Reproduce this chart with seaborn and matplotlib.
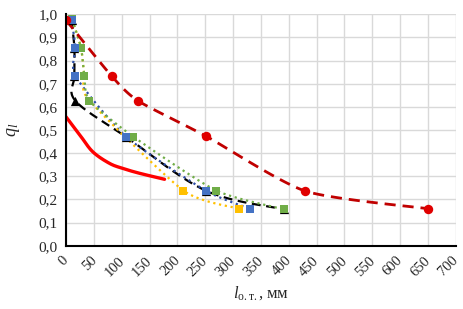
import numpy as np
import pandas as pd
import matplotlib
matplotlib.use("Agg")
import matplotlib.pyplot as plt
import matplotlib.transforms as mtransforms
from matplotlib.ticker import MultipleLocator, FuncFormatter
import seaborn as sns

# ---- data ----
red_dash_x = [0, 82, 130, 251, 430, 650]
red_dash_y = [0.975, 0.733, 0.625, 0.474, 0.236, 0.160]

black_x = [10, 15, 15, 17, 108, 251, 392]
black_y = [0.975, 0.855, 0.733, 0.626, 0.470, 0.238, 0.157]

blue_x = [10, 17, 17, 108, 251, 330]
blue_y = [0.975, 0.855, 0.733, 0.471, 0.238, 0.160]

yellow_x = [11, 27, 33, 42, 211, 311]
yellow_y = [0.978, 0.855, 0.733, 0.627, 0.238, 0.160]

green_x = [11, 27, 33, 42, 121, 270, 392]
green_y = [0.978, 0.855, 0.733, 0.627, 0.471, 0.238, 0.157]

red_solid_x = [0, 25, 48, 78, 102, 132, 177]
red_solid_y = [0.557, 0.478, 0.406, 0.356, 0.334, 0.313, 0.287]

x_ticks = list(range(0, 701, 50))
y_ticks = [round(v * 0.1, 1) for v in range(0, 11)]

# ---- style ----
sns.set_theme(style="white")
plt.rcParams["font.family"] = ["Liberation Serif", "DejaVu Serif"]
plt.rcParams["mathtext.fontset"] = "custom"
plt.rcParams["mathtext.rm"] = "Liberation Serif"
plt.rcParams["mathtext.it"] = "Liberation Serif:italic"

W, H = 463, 309
fig = plt.figure(figsize=(W / 100, H / 100), dpi=100)
ax = fig.add_axes([66 / W, 1 - 245.7 / H, (455.7 - 66) / W, (245.7 - 14.3) / H])

SX = 389.0 / 700.0
SY = 231.4


def smooth(x, y, k=9.0, n=24):
    """Smoothed line (Catmull-Rom style Bezier) computed in display-like space."""
    P = np.column_stack([np.asarray(x, float) * SX, np.asarray(y, float) * SY])
    out = [P[0]]
    t = np.linspace(0, 1, n)[1:, None]
    for i in range(len(P) - 1):
        p0 = P[i - 1] if i > 0 else P[i]
        p1, p2 = P[i], P[i + 1]
        p3 = P[i + 2] if i + 2 < len(P) else P[i + 1]
        c1 = p1 + (p2 - p0) / k
        c2 = p2 - (p3 - p1) / k
        seg = ((1 - t) ** 3) * p1 + 3 * ((1 - t) ** 2) * t * c1 + 3 * (1 - t) * t ** 2 * c2 + t ** 3 * p2
        out.extend(seg)
    out = np.array(out)
    return out[:, 0] / SX, out[:, 1] / SY


def draw_line(x, y, color, ls, lw, z, dashes=None, k=9.0):
    sxv, syv = smooth(x, y, k=k)
    df = pd.DataFrame({"x": sxv, "y": syv})
    sns.lineplot(data=df, x="x", y="y", sort=False, estimator=None, ax=ax,
                 color=color, linewidth=lw, zorder=z)
    line = ax.lines[-1]
    line.set_linestyle(ls)
    if dashes is not None:
        line.set_dashes(dashes)


def draw_markers(x, y, color, marker, size, z):
    df = pd.DataFrame({"x": x, "y": y})
    sns.scatterplot(data=df, x="x", y="y", ax=ax, color=color, marker=marker,
                    s=size, linewidth=0, zorder=z)


# lines
draw_line(red_solid_x, red_solid_y, "#FF0000", "-", 2.4, 3, k=6.0)
draw_line(black_x, black_y, "#000000", "--", 1.6, 4, dashes=(4, 2.5), k=6.0)
draw_line(blue_x, blue_y, "#2E4FA8", ":", 1.6, 4)
draw_line(yellow_x, yellow_y, "#FFC000", ":", 1.6, 4)
draw_line(green_x, green_y, "#70AD47", ":", 1.6, 4)
draw_line(red_dash_x, red_dash_y, "#C00000", "--", 2.0, 4, dashes=(4, 2.5), k=9.0)

# markers
draw_markers(black_x, black_y, "#000000", "^", 44, 5)
draw_markers(yellow_x, yellow_y, "#FFC000", "s", 40, 6)
draw_markers(blue_x, blue_y, "#4472C4", "s", 40, 7)
draw_markers(green_x, green_y, "#70AD47", "s", 40, 6.5)
draw_markers(red_dash_x, red_dash_y, "#E00000", "o", 46, 8)

# axes
ax.set_xlim(0, 700)
ax.set_ylim(0, 1.0)
ax.set_xticks(x_ticks)
ax.set_yticks(y_ticks)
ax.xaxis.set_minor_locator(MultipleLocator(10))
ax.yaxis.set_minor_locator(MultipleLocator(0.02))
ax.yaxis.set_major_formatter(FuncFormatter(lambda v, p: f"{v:.1f}".replace(".", ",")))
ax.set_xticklabels([str(v) for v in x_ticks], rotation=45, ha="right",
                   rotation_mode="anchor")
ax.tick_params(axis="both", which="major", labelsize=10.5, length=4, width=1.2,
               direction="out", color="black", pad=2)
ax.tick_params(axis="both", which="minor", length=3, width=1.0, direction="out",
               color="black")
ax.tick_params(axis="y", which="major", labelsize=11)
ax.tick_params(axis="x", which="major", pad=2)

shift = mtransforms.ScaledTranslation(-4 / 100, 0, fig.dpi_scale_trans)
for lbl in ax.get_xticklabels():
    lbl.set_transform(lbl.get_transform() + shift)

ax.grid(True, which="major", color="#D9D9D9", linewidth=1.0)
ax.set_axisbelow(True)
for s in ["top", "right"]:
    ax.spines[s].set_visible(False)
for s in ["left", "bottom"]:
    ax.spines[s].set_color("black")
    ax.spines[s].set_linewidth(1.5)
    ax.spines[s].set_zorder(10)

ax.set_ylabel(r"$q_{l}$", fontsize=13, labelpad=12)
ax.set_xlabel(r"$l_{\mathrm{о.т.}}$, мм", fontsize=12, labelpad=4)

fig.savefig("out.png", dpi=100)
